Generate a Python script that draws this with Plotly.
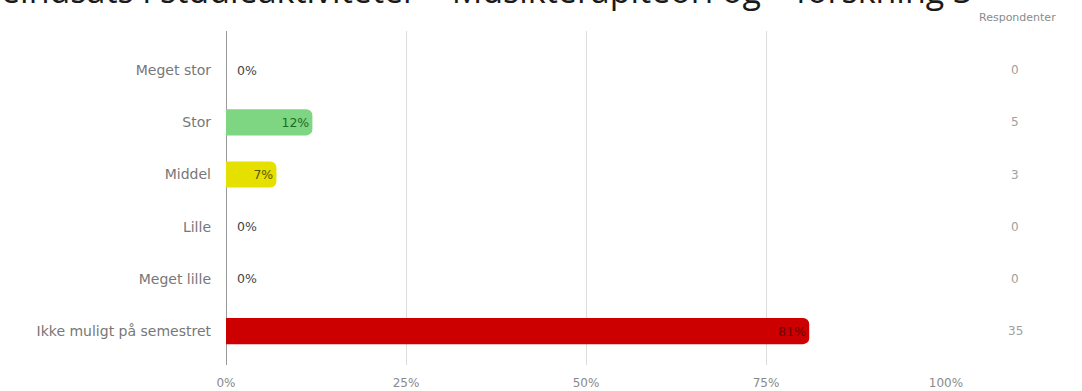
import plotly.graph_objects as go

# Survey answers: effort in study activities
categories = ["Meget stor", "Stor", "Middel", "Lille", "Meget lille", "Ikke muligt på semestret"]
percent = [0, 12, 7, 0, 0, 81]
respondents = [0, 5, 3, 0, 0, 35]
bar_colors = ["#7fd682", "#7fd682", "#e6e000", "#7fd682", "#7fd682", "#cc0000"]
text_colors = ["#444444", "#1d6b25", "#5a5500", "#444444", "#444444", "#700000"]
x_ticks = [0, 25, 50, 75, 100]
x_tick_labels = ["0%", "25%", "50%", "75%", "100%"]
title_text = "Studieindsats i studieaktiviteter – Musikterapiteori og – forskning 3"
count_header = "Respondenter"

LABEL_FONT = "DejaVu Sans"

W, H = 1082, 391
L, R, T, B = 226, 1082 - 946, 31, 391 - 365
plot_w = W - L - R
plot_h = H - T - B

positions = ["outside" if v == 0 else "inside" for v in percent]
labels = [("  " if v == 0 else "") + f"{v}%" for v in percent]

fig = go.Figure()
fig.add_trace(go.Bar(
    x=percent,
    y=categories,
    orientation="h",
    marker=dict(color=bar_colors, line=dict(width=0)),
    width=0.5,
    text=labels,
    textposition=positions,
    insidetextanchor="end",
    textfont=dict(color=text_colors, size=12.5, family=LABEL_FONT),
    outsidetextfont=dict(color="#444444", size=12.5, family=LABEL_FONT),
    cliponaxis=False,
    hoverinfo="skip",
))

annotations = []
for cat, n in zip(categories, respondents):
    annotations.append(dict(
        x=1 + (1015 - 946) / plot_w, xref="paper", y=cat, yref="y",
        text=str(n), showarrow=False, xanchor="center", yanchor="middle",
        font=dict(size=12, color="#a0a0a0", family=LABEL_FONT),
    ))
annotations.append(dict(
    x=1 + (1017 - 946) / plot_w, xref="paper", y=1 + (T - 17) / plot_h, yref="paper",
    text=count_header, showarrow=False, xanchor="center", yanchor="middle",
    font=dict(size=11, color="#8a8a8a", family=LABEL_FONT),
))
annotations.append(dict(
    x=(975 - L) / plot_w, xref="paper", y=1 + (T - 15) / plot_h, yref="paper",
    text=title_text, showarrow=False, xanchor="right", yanchor="bottom",
    font=dict(size=34, color="#1a1a1a", family="Open Sans"),
))

fig.update_layout(
    width=W, height=H,
    margin=dict(l=L, r=R, t=T, b=B, pad=0, autoexpand=False),
    paper_bgcolor="white", plot_bgcolor="white",
    showlegend=False,
    barcornerradius=6,
    annotations=annotations,
    xaxis=dict(
        range=[0, 100], tickvals=x_ticks, ticktext=x_tick_labels,
        showgrid=True, gridcolor="#dddddd", gridwidth=1,
        zeroline=True, zerolinecolor="#9a9a9a", zerolinewidth=1,
        showline=False, ticks="",
        ticklabelstandoff=9, automargin=False,
        tickfont=dict(size=12, color="#8a8a8a", family=LABEL_FONT),
        fixedrange=True,
    ),
    yaxis=dict(
        type="category", categoryorder="array", categoryarray=categories,
        range=[5.65, -0.75],
        showgrid=False, zeroline=False, showline=False, ticks="",
        ticklabelstandoff=14, automargin=False,
        tickfont=dict(size=14, color="#777777", family=LABEL_FONT),
        fixedrange=True,
    ),
)

fig.write_html("out.html", config={"displayModeBar": False})
